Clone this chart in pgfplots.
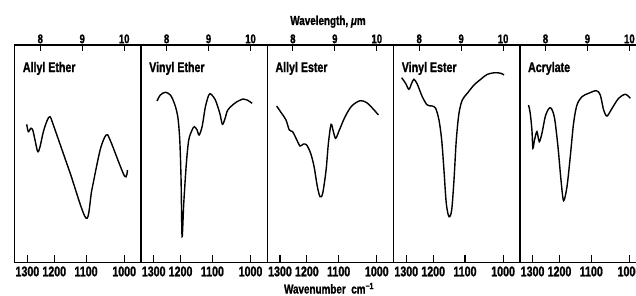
\documentclass[border=0pt]{standalone}
\usepackage{fontspec}
\setmainfont{Liberation Sans}[FakeStretch=0.76, FakeBold=1.2]
\usepackage{pgfplots}
\usepackage{pgfplotstable}
\pgfplotsset{compat=1.18}

% x = wavelength (micrometre), y = transmittance (arbitrary units)
\pgfplotstableread{
x y
7.676 138
7.715 130.6
7.772 134
7.820 132.3
7.874 122.3
7.939 110.6
7.994 115.6
8.073 130.6
8.168 142.3
8.232 145.6
8.311 137.3
8.700 90.6
9.092 44
9.228 72.3
9.426 112.3
9.569 127.3
9.664 122.3
10.006 86.3
10.077 92.3
}\allylether

\pgfplotstableread{
x y
7.772 161.3
7.851 167.3
7.970 170
8.089 167.3
8.185 159
8.266 145.6
8.314 122.3
8.345 82.3
8.369 25.6
8.409 59
8.471 99
8.528 122.3
8.607 132.3
8.662 135.6
8.727 132.3
8.774 127.3
8.846 135.6
8.925 155.6
9.006 167.3
9.061 168
9.163 162.3
9.268 149
9.330 138
9.395 144
9.459 152.3
9.641 159.6
9.824 163.3
9.920 162.3
10.039 159
}\vinylether

\pgfplotstableread{
x y
7.612 156.3
7.731 149
7.836 142.3
7.915 132.3
7.994 130.6
8.075 124
8.170 116.3
8.249 118.3
8.328 117.3
8.423 109
8.505 95.6
8.583 75.6
8.648 65.6
8.710 69
8.791 92.3
8.846 119
8.910 138
8.965 130.6
9.020 124
9.108 132.3
9.244 145.6
9.402 156.3
9.602 161.6
9.760 159.6
9.920 153
10.039 147.3
}\allylester

\pgfplotstableread{
x y
7.581 184.6
7.676 179
7.755 173
7.820 179
7.874 183
7.953 178.3
8.073 165.6
8.192 157.3
8.311 156.3
8.392 154
8.471 142.3
8.536 122.3
8.590 92.3
8.645 59
8.710 45.6
8.774 52.3
8.829 82.3
8.884 122.3
8.948 149
9.027 162.3
9.147 169
9.306 177.3
9.466 183
9.624 188
9.808 189.6
9.944 189
10.023 187.3
}\vinylester

\pgfplotstableread{
x y
7.595 157.3
7.636 149
7.676 132.3
7.700 114
7.738 122.3
7.796 130.6
7.851 120.6
7.915 129
7.994 145.6
8.073 153.3
8.137 154
8.216 144
8.297 115.6
8.369 82.3
8.431 61.6
8.512 75.6
8.590 105.6
8.669 139
8.750 157.3
8.870 165.6
9.027 169
9.211 171.6
9.306 167.3
9.385 152.3
9.466 146.3
9.586 154
9.743 164
9.903 168
10.022 164
}\acrylate

\pgfplotsset{
  panelbase/.style={
    scale only axis, width=126.3pt, height=217.3pt, anchor=south west,
    xmin=7.39, xmax=10.40, ymin=0, ymax=217.3,
    ytick=\empty, clip=false,
    axis line style={line width=1.4pt, black},
    tick align=inside,
    tick style={line width=1.1pt, black},
  },
  panel/.style={panelbase,
    xtick={7.6923,8.3333,9.0909,10}, xticklabels={1300,1200,1100,1000},
    xtick pos=bottom, major tick length=7pt,
    xticklabel style={font=\bfseries\fontsize{14}{14}\selectfont, inner sep=2pt, yshift=-2pt},
  },
  toppanel/.style={panelbase,
    xtick={8,9,10}, xticklabels={8,9,10},
    xtick pos=top, major tick length=6pt,
    xticklabel style={font=\bfseries\fontsize{12.5}{12.5}\selectfont, inner sep=1.5pt},
  },
  curve/.style={black, line width=1.4pt, smooth, tension=0.5, no markers},
}

\newcommand{\paneltitle}[1]{\node[anchor=base west, inner sep=0pt, font=\bfseries\fontsize{14}{14}\selectfont, xshift=8pt, yshift=-27pt] at (rel axis cs:0,1) {#1};}

\begin{document}
\begin{tikzpicture}
\path[use as bounding box] (0,0) rectangle (636pt,295pt);
\clip (0,0) rectangle (636pt,295pt);

% Panel 1
\begin{axis}[toppanel, at={(14.7pt,32.7pt)}]\end{axis}
\begin{axis}[panel, at={(14.7pt,32.7pt)}]
\addplot[curve] table {\allylether};
\paneltitle{Allyl Ether}
\end{axis}

% Panel 2
\begin{axis}[toppanel, at={(141pt,32.7pt)}]\end{axis}
\begin{axis}[panel, at={(141pt,32.7pt)}]
\addplot[curve] table {\vinylether};
\paneltitle{Vinyl Ether}
\end{axis}

% Panel 3
\begin{axis}[toppanel, at={(267.3pt,32.7pt)}]\end{axis}
\begin{axis}[panel, at={(267.3pt,32.7pt)}]
\addplot[curve] table {\allylester};
\paneltitle{Allyl Ester}
\end{axis}

% Panel 4
\begin{axis}[toppanel, at={(393.6pt,32.7pt)}]\end{axis}
\begin{axis}[panel, at={(393.6pt,32.7pt)}]
\addplot[curve] table {\vinylester};
\paneltitle{Vinyl Ester}
\end{axis}

% Panel 5
\begin{axis}[toppanel, at={(519.9pt,32.7pt)}]\end{axis}
\begin{axis}[panel, at={(519.9pt,32.7pt)}]
\addplot[curve] table {\acrylate};
\paneltitle{Acrylate}
\end{axis}

\node[anchor=base, font=\bfseries\fontsize{13}{13}\selectfont] at (328pt,270pt) {Wavelength, {\itshape μ}m};
\node[anchor=base, font=\bfseries\fontsize{13}{13}\selectfont] at (329pt,1.5pt) {Wavenumber\ \ cm\textsuperscript{−1}};
\end{tikzpicture}
\end{document}
